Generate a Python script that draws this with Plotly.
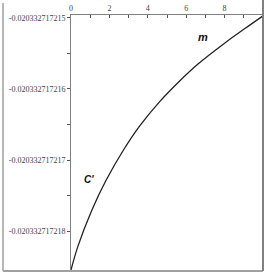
import plotly.graph_objects as go

# data
m_vals = [0, 0.35, 1.09, 1.82, 2.75, 3.58, 4.62, 5.66, 6.60, 8.0, 9.0, 10.0]
c_vals = [-0.020332717218549, -0.0203327172182235, -0.0203327172177055,
          -0.0203327172172895, -0.0203327172168525, -0.0203327172165205,
          -0.0203327172161775, -0.0203327172158865, -0.0203327172156515,
          -0.020332717215355, -0.02033271721516, -0.02033271721497]

x_major = [0, 2, 4, 6, 8]
x_minor = [1, 3, 5, 7, 9]
y_major = [-0.020332717215, -0.020332717216, -0.020332717217, -0.020332717218]
y_major_text = ["-0.020332717215", "-0.020332717216", "-0.020332717217", "-0.020332717218"]
y_minor = [-0.0203327172155, -0.0203327172165, -0.0203327172175]

W, H = 266, 273
L, R, T, B = 71, 3, 15, 3
pw, ph = W - L - R, H - T - B

fig = go.Figure()
fig.add_trace(go.Scatter(x=m_vals, y=c_vals, mode="lines",
                         line=dict(color="#222222", width=1.3, shape="spline"),
                         hoverinfo="skip"))

xt = x_major + x_minor
xtt = [str(v) for v in x_major] + [""] * len(x_minor)
yt = y_major + y_minor
ytt = y_major_text + [""] * len(y_minor)

tickfont = dict(family="Liberation Serif", size=8, color="#444444")

fig.update_layout(
    width=W, height=H,
    margin=dict(l=L, r=R, t=T, b=B, pad=0),
    paper_bgcolor="white", plot_bgcolor="white",
    showlegend=False,
    xaxis=dict(range=[0, 10], side="top", tickmode="array", tickvals=xt, ticktext=xtt,
               ticks="inside", ticklen=3, tickcolor="#555555", tickwidth=1,
               showline=True, linecolor="#808080", linewidth=1, automargin=False,
               showgrid=False, zeroline=False, tickfont=tickfont, fixedrange=True),
    yaxis=dict(range=[-0.020332717218549, -0.020332717214958], tickmode="array",
               tickvals=yt, ticktext=ytt, ticks="outside", ticklen=3,
               tickcolor="#555555", tickwidth=1, automargin=False,
               showline=True, linecolor="#808080", linewidth=1,
               showgrid=False, zeroline=False, tickfont=tickfont, fixedrange=True),
)

# outer frame
fx0 = (3 - L) / pw
fy0 = (H - B - 271) / ph
fig.add_shape(type="line", xref="paper", yref="paper", x0=fx0, x1=fx0, y0=fy0, y1=(H - B - 3) / ph,
              line=dict(color="#a0a0a0", width=1.5))
fig.add_shape(type="line", xref="paper", yref="paper", x0=fx0, x1=1, y0=fy0, y1=fy0,
              line=dict(color="#a0a0a0", width=2))
fig.add_shape(type="line", xref="paper", yref="paper", x0=1, x1=1, y0=fy0, y1=(H - B) / ph,
              line=dict(color="#808080", width=2))

fig.add_annotation(xref="paper", yref="paper", x=(210 - L) / pw, y=(H - B - 29) / ph,
                   text="<b><i>m</i></b>", showarrow=False,
                   font=dict(family="Liberation Sans", size=11, color="#111111"))
fig.add_annotation(xref="paper", yref="paper", x=(82 - L) / pw, y=(H - B - 180) / ph,
                   text="<b><i>C'</i></b>", showarrow=False,
                   font=dict(family="Liberation Sans", size=10, color="#111111"))

fig.write_html("out.html", config={"displayModeBar": False},
               post_script="document.body.style.margin='0';document.body.style.overflow='hidden';")
